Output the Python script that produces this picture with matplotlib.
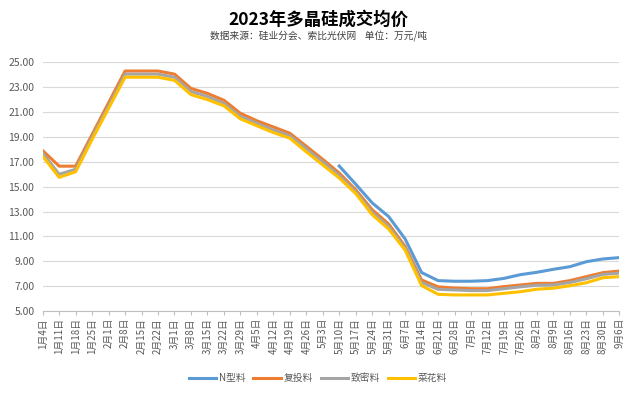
import matplotlib
matplotlib.use("Agg")
import matplotlib.pyplot as plt
import numpy as np

plt.rcParams['font.family'] = ['Noto Sans CJK SC', 'DejaVu Sans']

dates = ["1月4日", "1月11日", "1月18日", "1月25日", "2月1日", "2月8日", "2月15日", "2月22日",
         "3月1日", "3月8日", "3月15日", "3月22日", "3月29日", "4月5日", "4月12日", "4月19日",
         "4月26日", "5月3日", "5月10日", "5月17日", "5月24日", "5月31日", "6月7日", "6月14日",
         "6月21日", "6月28日", "7月5日", "7月12日", "7月19日", "7月26日", "8月2日", "8月9日",
         "8月16日", "8月23日", "8月30日", "9月6日"]

# N型料 only quoted from 5月10日
n_type = [None] * 18 + [16.66, 15.2, 13.7, 12.6, 10.8, 8.1, 7.45, 7.4, 7.4, 7.45,
                        7.63, 7.93, 8.12, 8.36, 8.57, 8.97, 9.19, 9.3]
recharge = [17.9, 16.65, 16.65, 19.2, 21.75, 24.3, 24.3, 24.3, 24.05, 22.9, 22.5, 21.95,
            20.9, 20.3, 19.8, 19.3, 18.25, 17.2, 16.1, 14.75, 13.15, 12.0, 10.2, 7.5,
            6.95, 6.85, 6.8, 6.8, 6.97, 7.1, 7.23, 7.23, 7.45, 7.77, 8.09, 8.22]
dense = [17.7, 16.0, 16.4, 19.0, 21.5, 24.05, 24.05, 24.05, 23.8, 22.65, 22.25, 21.7,
         20.65, 20.1, 19.55, 19.1, 18.05, 17.0, 15.9, 14.6, 12.95, 11.8, 10.05, 7.3,
         6.75, 6.7, 6.65, 6.65, 6.8, 6.95, 7.08, 7.1, 7.3, 7.6, 7.95, 8.05]
cauliflower = [17.45, 15.75, 16.2, 18.8, 21.3, 23.8, 23.8, 23.8, 23.55, 22.4, 22.0, 21.5,
               20.45, 19.9, 19.35, 18.9, 17.8, 16.75, 15.7, 14.45, 12.75, 11.6, 9.9, 7.05,
               6.35, 6.3, 6.3, 6.3, 6.43, 6.56, 6.76, 6.84, 7.04, 7.28, 7.68, 7.77]

series = [
    ("N型料", n_type, "#5B9BD5"),
    ("复投料", recharge, "#ED7D31"),
    ("致密料", dense, "#A5A5A5"),
    ("菜花料", cauliflower, "#FFC000"),
]

fig = plt.figure(figsize=(6.4, 3.98), dpi=100)
ax = fig.add_axes([42.7/640, 1-311.1/398, (619.3-42.7)/640, (311.1-62.3)/398])

x = np.arange(len(dates))
for name, vals, col in series:
    y = np.array([np.nan if v is None else v for v in vals], dtype=float)
    ax.plot(x, y, color=col, lw=2.2, label=name, solid_joinstyle='round')

ax.set_xlim(0, len(dates)-1)
ax.set_ylim(5, 25)
ax.set_yticks(np.arange(5, 26, 2))
ax.set_yticklabels([f"{v:.2f}" for v in np.arange(5, 26, 2)], fontsize=7.5, color="#595959")
ax.set_xticks(x)
ax.set_xticklabels(dates, rotation=90, fontsize=7, color="#595959")
ax.tick_params(axis='y', length=0, pad=6)
ax.tick_params(axis='x', length=3, color="#bfbfbf", pad=2)
ax.grid(axis='y', color="#d9d9d9", lw=0.8)
ax.set_axisbelow(True)
for s in ['top', 'right', 'left']:
    ax.spines[s].set_visible(False)
ax.spines['bottom'].set_color("#bfbfbf")
ax.spines['bottom'].set_linewidth(0.8)

fig.text(0.497, 1-20/398, "2023年多晶硅成交均价", ha='center', va='center',
         fontsize=12.5, fontweight='bold', color="#000000")
fig.text(0.498, 1-36/398, "数据来源：硅业分会、索比光伏网    单位：万元/吨", ha='center',
         va='center', fontsize=7, color="#404040")

fig.legend(loc='center', bbox_to_anchor=(0.497, 1-378/398), ncol=4, frameon=False,
           fontsize=7, handlelength=2.8, handletextpad=0.3, columnspacing=0.8,
           labelcolor="#595959")

fig.savefig("out.png", dpi=100, facecolor="white")
